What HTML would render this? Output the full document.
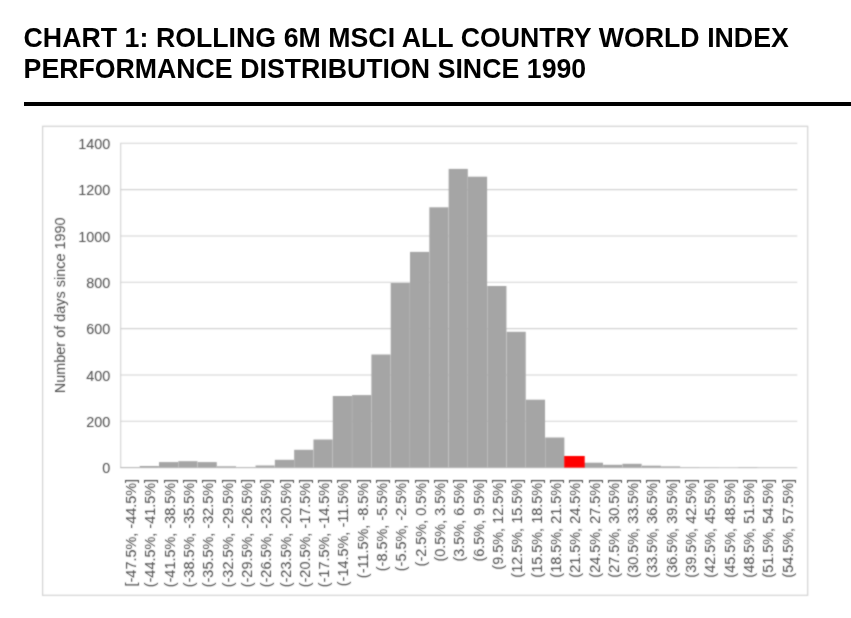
<!DOCTYPE html>
<html><head><meta charset="utf-8"><title>Chart 1</title>
<style>
html,body{margin:0;padding:0;background:#fff;}
body{width:851px;height:618px;position:relative;overflow:hidden;font-family:"Liberation Sans",Arial,sans-serif;}
h1{position:absolute;left:23.6px;top:22.5px;margin:0;font-size:26.7px;line-height:31px;font-weight:bold;color:#000;white-space:nowrap;word-spacing:0.2px;}
h1 span{display:block;transform:scaleY(1.04);transform-origin:0 24.75px;}
.rule{position:absolute;left:24px;top:102px;width:827px;height:4px;background:#000;}
svg{position:absolute;left:0;top:0;}
svg text{font-family:"Liberation Sans",Arial,sans-serif;font-size:14.45px;fill:#4d4d4d;}
</style></head><body>
<h1><span>CHART 1: ROLLING 6M MSCI ALL COUNTRY WORLD INDEX</span><span>PERFORMANCE DISTRIBUTION SINCE 1990</span></h1>
<div class="rule"></div>
<svg width="851" height="618" viewBox="0 0 851 618">
<defs><filter id="soft" x="0" y="0" width="851" height="618" filterUnits="userSpaceOnUse" color-interpolation-filters="sRGB"><feConvolveMatrix order="3" kernelMatrix="0.05 0.09 0.05 0.09 0.44 0.09 0.05 0.09 0.05" divisor="1" edgeMode="duplicate" preserveAlpha="false"/></filter></defs>
<g filter="url(#soft)">
<rect x="42.6" y="126.3" width="765.1" height="469" fill="#fff" stroke="#d2d2d2" stroke-width="1.2"/>

<line x1="120.2" y1="467.60" x2="797.3" y2="467.60" stroke="#d2d2d2" stroke-width="1.1"/>
<text transform="translate(110.3,473.30) scale(1,1.04)" text-anchor="end">0</text>
<line x1="120.2" y1="421.27" x2="797.3" y2="421.27" stroke="#d2d2d2" stroke-width="1.1"/>
<text transform="translate(110.3,426.97) scale(1,1.04)" text-anchor="end">200</text>
<line x1="120.2" y1="374.94" x2="797.3" y2="374.94" stroke="#d2d2d2" stroke-width="1.1"/>
<text transform="translate(110.3,380.64) scale(1,1.04)" text-anchor="end">400</text>
<line x1="120.2" y1="328.61" x2="797.3" y2="328.61" stroke="#d2d2d2" stroke-width="1.1"/>
<text transform="translate(110.3,334.31) scale(1,1.04)" text-anchor="end">600</text>
<line x1="120.2" y1="282.29" x2="797.3" y2="282.29" stroke="#d2d2d2" stroke-width="1.1"/>
<text transform="translate(110.3,287.99) scale(1,1.04)" text-anchor="end">800</text>
<line x1="120.2" y1="235.96" x2="797.3" y2="235.96" stroke="#d2d2d2" stroke-width="1.1"/>
<text transform="translate(110.3,241.66) scale(1,1.04)" text-anchor="end">1000</text>
<line x1="120.2" y1="189.63" x2="797.3" y2="189.63" stroke="#d2d2d2" stroke-width="1.1"/>
<text transform="translate(110.3,195.33) scale(1,1.04)" text-anchor="end">1200</text>
<line x1="120.2" y1="143.30" x2="797.3" y2="143.30" stroke="#d2d2d2" stroke-width="1.1"/>
<text transform="translate(110.3,149.00) scale(1,1.04)" text-anchor="end">1400</text>
<line x1="120.7" y1="143.3" x2="120.7" y2="467.6" stroke="#d2d2d2" stroke-width="1.1"/>
<rect x="120.38" y="467.10" width="19.15" height="0.50" fill="#a5a5a5"/>
<rect x="139.69" y="466.00" width="19.15" height="1.60" fill="#a5a5a5"/>
<rect x="159.00" y="462.10" width="19.15" height="5.50" fill="#a5a5a5"/>
<rect x="178.31" y="461.20" width="19.15" height="6.40" fill="#a5a5a5"/>
<rect x="197.62" y="462.10" width="19.15" height="5.50" fill="#a5a5a5"/>
<rect x="216.93" y="466.30" width="19.15" height="1.30" fill="#a5a5a5"/>
<rect x="236.24" y="467.10" width="19.15" height="0.50" fill="#a5a5a5"/>
<rect x="255.55" y="465.50" width="19.15" height="2.10" fill="#a5a5a5"/>
<rect x="274.86" y="459.80" width="19.15" height="7.80" fill="#a5a5a5"/>
<rect x="294.17" y="449.80" width="19.15" height="17.80" fill="#a5a5a5"/>
<rect x="313.48" y="439.50" width="19.15" height="28.10" fill="#a5a5a5"/>
<rect x="332.79" y="396.00" width="19.15" height="71.60" fill="#a5a5a5"/>
<rect x="352.10" y="395.10" width="19.15" height="72.50" fill="#a5a5a5"/>
<rect x="371.41" y="354.50" width="19.15" height="113.10" fill="#a5a5a5"/>
<rect x="390.72" y="283.00" width="19.15" height="184.60" fill="#a5a5a5"/>
<rect x="410.03" y="251.90" width="19.15" height="215.70" fill="#a5a5a5"/>
<rect x="429.34" y="207.30" width="19.15" height="260.30" fill="#a5a5a5"/>
<rect x="448.65" y="168.90" width="19.15" height="298.70" fill="#a5a5a5"/>
<rect x="467.96" y="176.70" width="19.15" height="290.90" fill="#a5a5a5"/>
<rect x="487.27" y="286.00" width="19.15" height="181.60" fill="#a5a5a5"/>
<rect x="506.58" y="331.80" width="19.15" height="135.80" fill="#a5a5a5"/>
<rect x="525.89" y="399.70" width="19.15" height="67.90" fill="#a5a5a5"/>
<rect x="545.20" y="437.50" width="19.15" height="30.10" fill="#a5a5a5"/>
<rect x="583.82" y="462.70" width="19.15" height="4.90" fill="#a5a5a5"/>
<rect x="603.13" y="464.80" width="19.15" height="2.80" fill="#a5a5a5"/>
<rect x="622.44" y="463.80" width="19.15" height="3.80" fill="#a5a5a5"/>
<rect x="641.75" y="465.70" width="19.15" height="1.90" fill="#a5a5a5"/>
<rect x="661.06" y="466.40" width="19.15" height="1.20" fill="#a5a5a5"/>
<rect x="680.37" y="467.20" width="19.15" height="0.40" fill="#a5a5a5"/>
<rect x="699.68" y="467.40" width="19.15" height="0.20" fill="#a5a5a5"/>
<rect x="718.99" y="467.50" width="19.15" height="0.10" fill="#a5a5a5"/>
<rect x="738.30" y="467.20" width="19.15" height="0.40" fill="#a5a5a5"/>
<rect x="757.61" y="467.50" width="19.15" height="0.10" fill="#a5a5a5"/>
<rect x="776.92" y="467.50" width="19.15" height="0.10" fill="#a5a5a5"/>
<rect x="564.2" y="456.00" width="20.5" height="11.60" fill="#ff0000"/>
<text transform="translate(136.05,478.9) rotate(-90) scale(1,1.04)" text-anchor="end">[-47.5%, -44.5%]</text>
<text transform="translate(155.36,478.9) rotate(-90) scale(1,1.04)" text-anchor="end">(-44.5%, -41.5%]</text>
<text transform="translate(174.67,478.9) rotate(-90) scale(1,1.04)" text-anchor="end">(-41.5%, -38.5%]</text>
<text transform="translate(193.98,478.9) rotate(-90) scale(1,1.04)" text-anchor="end">(-38.5%, -35.5%]</text>
<text transform="translate(213.29,478.9) rotate(-90) scale(1,1.04)" text-anchor="end">(-35.5%, -32.5%]</text>
<text transform="translate(232.60,478.9) rotate(-90) scale(1,1.04)" text-anchor="end">(-32.5%, -29.5%]</text>
<text transform="translate(251.91,478.9) rotate(-90) scale(1,1.04)" text-anchor="end">(-29.5%, -26.5%]</text>
<text transform="translate(271.23,478.9) rotate(-90) scale(1,1.04)" text-anchor="end">(-26.5%, -23.5%]</text>
<text transform="translate(290.54,478.9) rotate(-90) scale(1,1.04)" text-anchor="end">(-23.5%, -20.5%]</text>
<text transform="translate(309.85,478.9) rotate(-90) scale(1,1.04)" text-anchor="end">(-20.5%, -17.5%]</text>
<text transform="translate(329.16,478.9) rotate(-90) scale(1,1.04)" text-anchor="end">(-17.5%, -14.5%]</text>
<text transform="translate(348.47,478.9) rotate(-90) scale(1,1.04)" text-anchor="end">(-14.5%, -11.5%]</text>
<text transform="translate(367.77,478.9) rotate(-90) scale(1,1.04)" text-anchor="end">(-11.5%, -8.5%]</text>
<text transform="translate(387.09,478.9) rotate(-90) scale(1,1.04)" text-anchor="end">(-8.5%, -5.5%]</text>
<text transform="translate(406.40,478.9) rotate(-90) scale(1,1.04)" text-anchor="end">(-5.5%, -2.5%]</text>
<text transform="translate(425.71,478.9) rotate(-90) scale(1,1.04)" text-anchor="end">(-2.5%, 0.5%]</text>
<text transform="translate(445.01,478.9) rotate(-90) scale(1,1.04)" text-anchor="end">(0.5%, 3.5%]</text>
<text transform="translate(464.32,478.9) rotate(-90) scale(1,1.04)" text-anchor="end">(3.5%, 6.5%]</text>
<text transform="translate(483.63,478.9) rotate(-90) scale(1,1.04)" text-anchor="end">(6.5%, 9.5%]</text>
<text transform="translate(502.94,478.9) rotate(-90) scale(1,1.04)" text-anchor="end">(9.5%, 12.5%]</text>
<text transform="translate(522.25,478.9) rotate(-90) scale(1,1.04)" text-anchor="end">(12.5%, 15.5%]</text>
<text transform="translate(541.56,478.9) rotate(-90) scale(1,1.04)" text-anchor="end">(15.5%, 18.5%]</text>
<text transform="translate(560.88,478.9) rotate(-90) scale(1,1.04)" text-anchor="end">(18.5%, 21.5%]</text>
<text transform="translate(580.18,478.9) rotate(-90) scale(1,1.04)" text-anchor="end">(21.5%, 24.5%]</text>
<text transform="translate(599.50,478.9) rotate(-90) scale(1,1.04)" text-anchor="end">(24.5%, 27.5%]</text>
<text transform="translate(618.80,478.9) rotate(-90) scale(1,1.04)" text-anchor="end">(27.5%, 30.5%]</text>
<text transform="translate(638.12,478.9) rotate(-90) scale(1,1.04)" text-anchor="end">(30.5%, 33.5%]</text>
<text transform="translate(657.42,478.9) rotate(-90) scale(1,1.04)" text-anchor="end">(33.5%, 36.5%]</text>
<text transform="translate(676.73,478.9) rotate(-90) scale(1,1.04)" text-anchor="end">(36.5%, 39.5%]</text>
<text transform="translate(696.04,478.9) rotate(-90) scale(1,1.04)" text-anchor="end">(39.5%, 42.5%]</text>
<text transform="translate(715.35,478.9) rotate(-90) scale(1,1.04)" text-anchor="end">(42.5%, 45.5%]</text>
<text transform="translate(734.66,478.9) rotate(-90) scale(1,1.04)" text-anchor="end">(45.5%, 48.5%]</text>
<text transform="translate(753.97,478.9) rotate(-90) scale(1,1.04)" text-anchor="end">(48.5%, 51.5%]</text>
<text transform="translate(773.28,478.9) rotate(-90) scale(1,1.04)" text-anchor="end">(51.5%, 54.5%]</text>
<text transform="translate(792.59,478.9) rotate(-90) scale(1,1.04)" text-anchor="end">(54.5%, 57.5%]</text>
<text transform="translate(64.5,305.3) rotate(-90) scale(1,1.04)" text-anchor="middle">Number of days since 1990</text>
</g></svg></body></html>
